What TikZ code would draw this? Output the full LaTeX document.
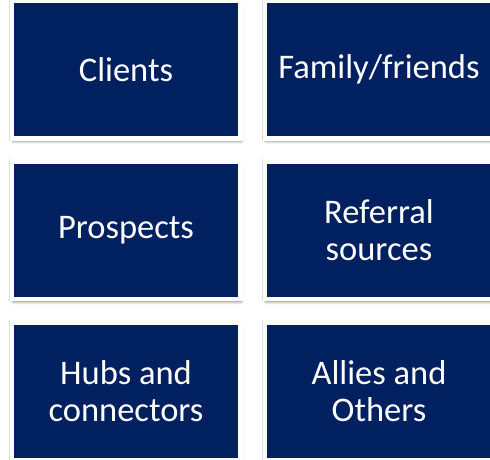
\documentclass[tikz,border=0pt]{standalone}
\usepackage{fontspec}
\setmainfont{Carlito}
\usepackage{tikz}
\usetikzlibrary{positioning,shadows.blur}
\definecolor{navy}{HTML}{002060}
\tikzset{
  tile/.style={rectangle,fill=navy,draw=white,line width=4.5pt,
    minimum width=228.5pt,minimum height=137.5pt,inner sep=0pt,
    text=white,align=center,font=\fontsize{34.5}{37.5}\selectfont,
    preaction={draw=black!13,line width=5.4pt},
    blur shadow={shadow xshift=1pt,shadow yshift=-3.2pt,
      shadow blur radius=2.6pt,shadow opacity=45}}
}

\begin{document}
\begin{tikzpicture}[x=1pt,y=-1pt]
\useasboundingbox (0,0) rectangle (490,460);
\node[tile] (clients) at (126,69.5) {Clients};
\node[tile] (family) at (379,69.5) {Family/friends};
\node[tile] (prospects) at (126,230) {Prospects};
\node[tile] (referral) at (379,230) {Referral\\sources};
\node[tile] (hubs) at (126,391) {Hubs and\\connectors};
\node[tile] (allies) at (379,391) {Allies and\\Others};
\end{tikzpicture}
\end{document}
